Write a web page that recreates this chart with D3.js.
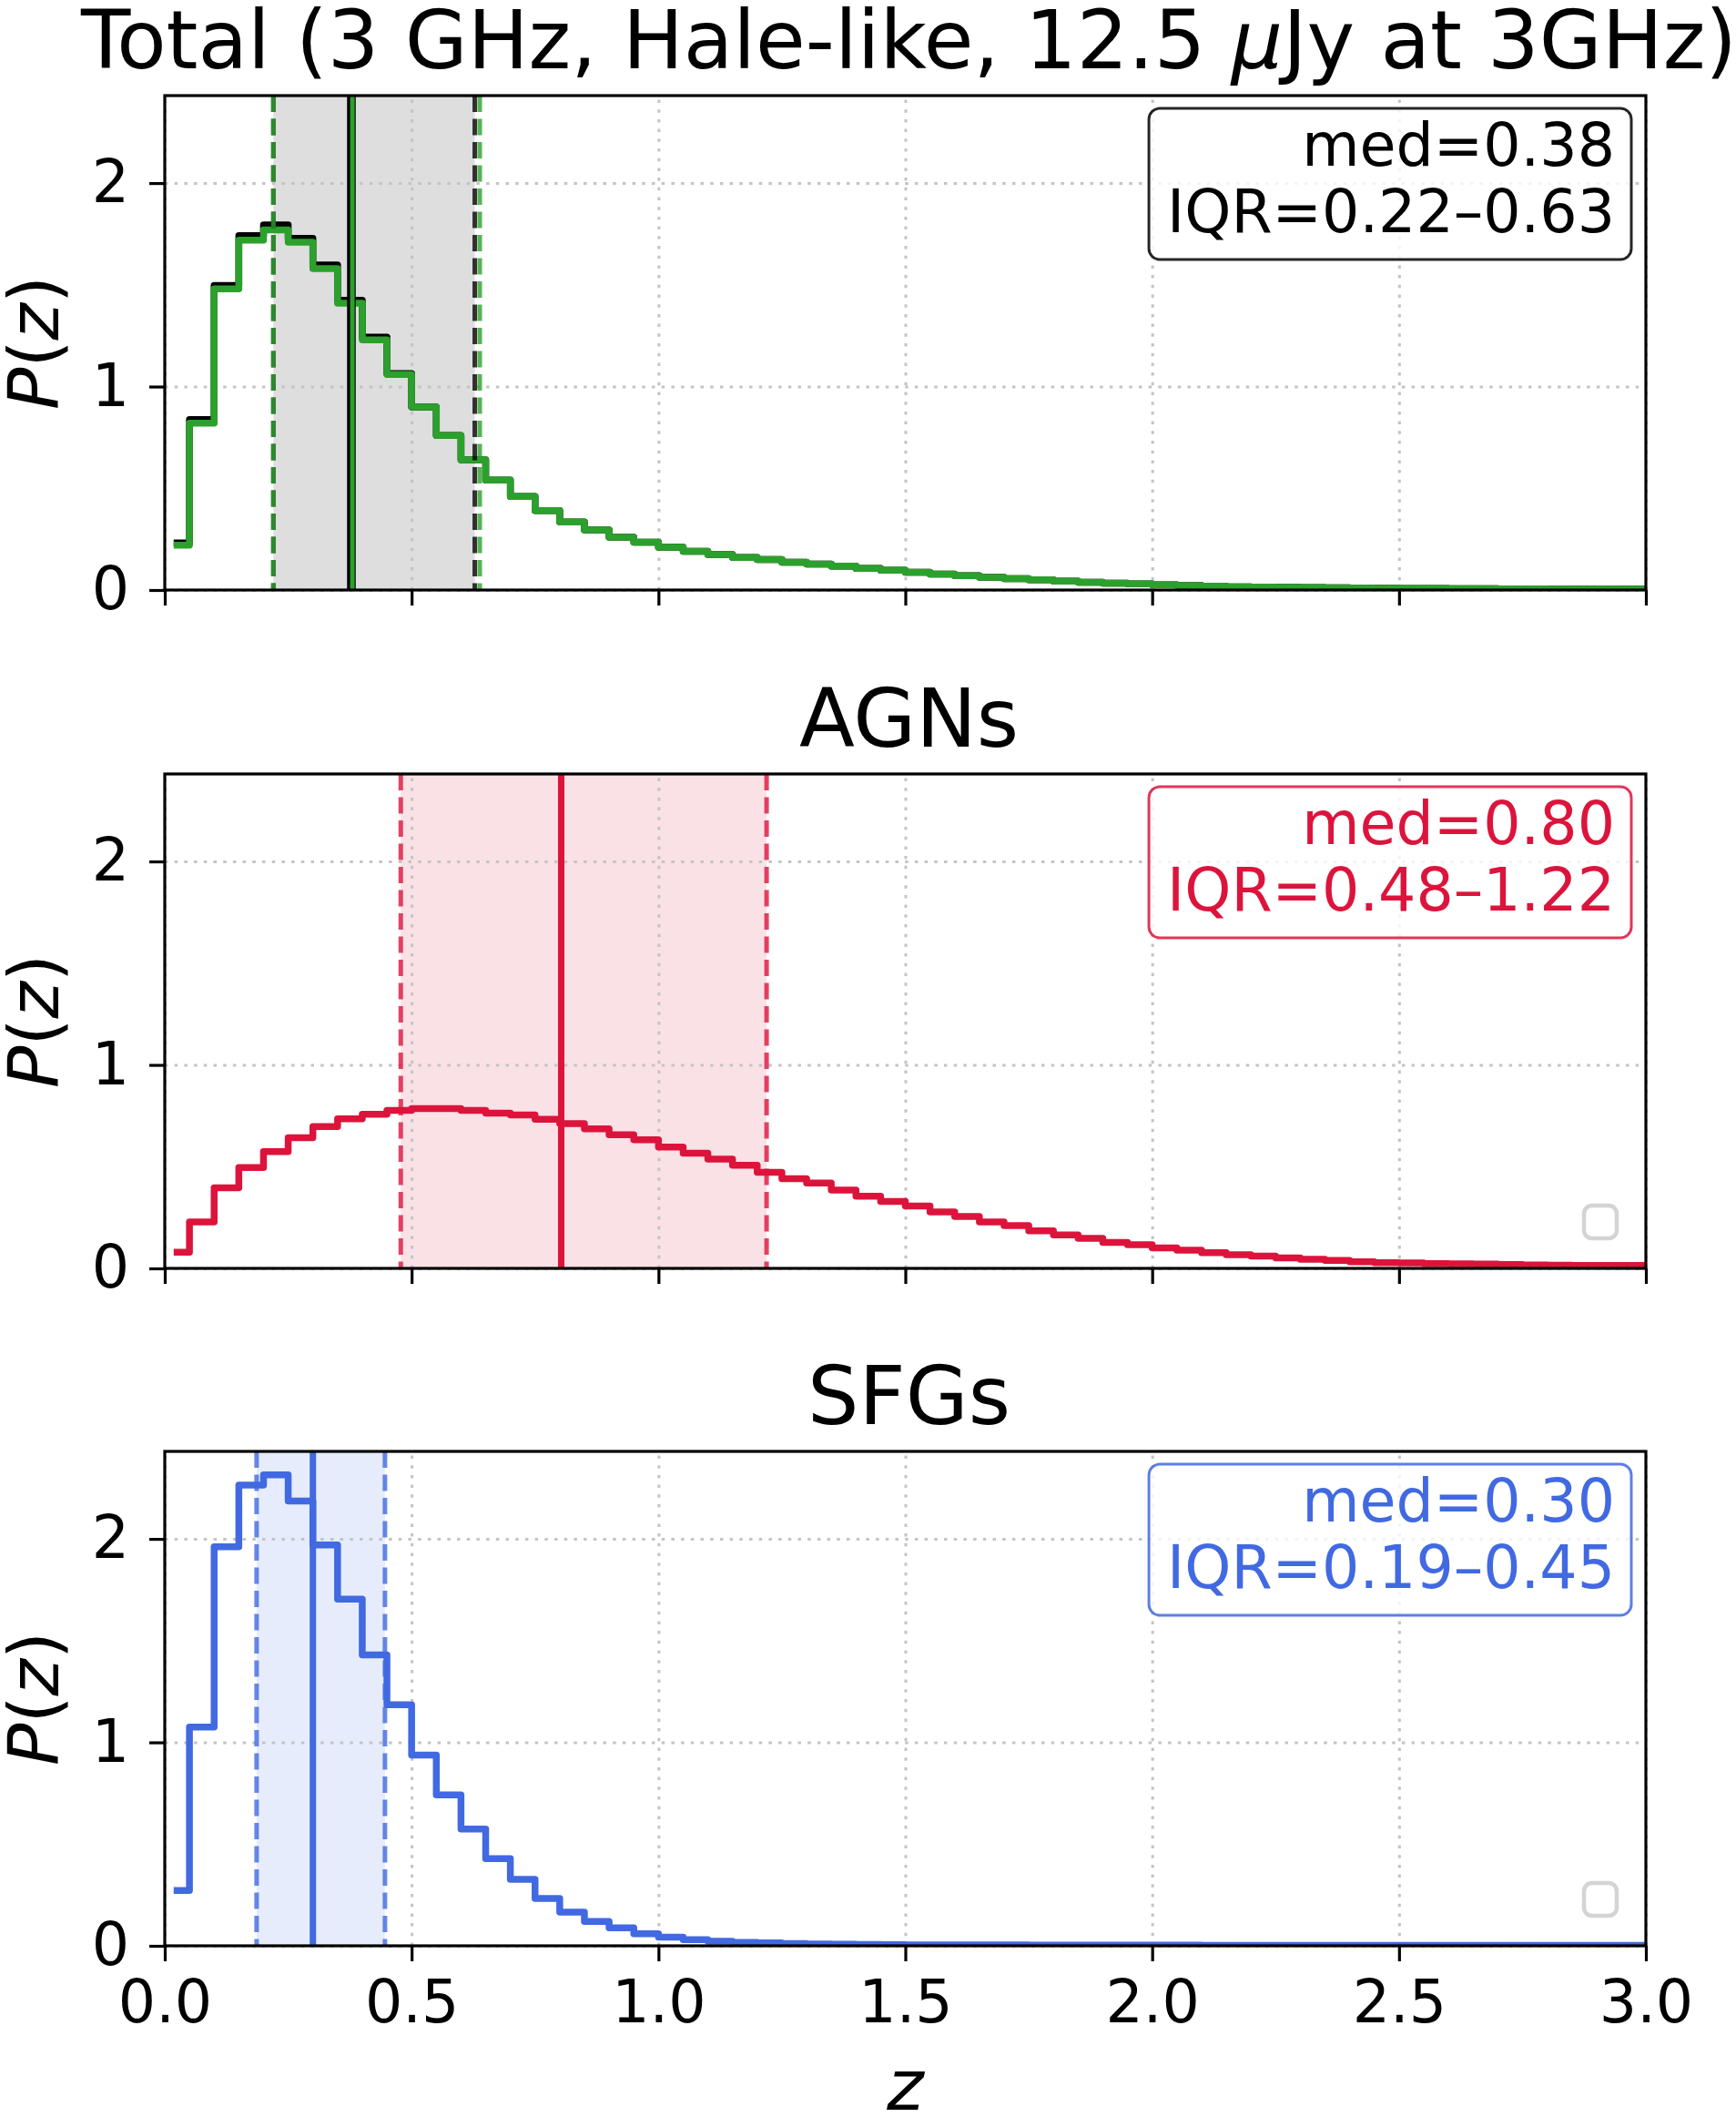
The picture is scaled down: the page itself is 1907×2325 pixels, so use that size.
<!DOCTYPE html>
<html>
<head>
<meta charset="utf-8">
<script src="https://cdn.jsdelivr.net/npm/d3@7"></script>
<style>
  html, body { margin: 0; padding: 0; background: #fff; }
  svg { display: block; font-family: "DejaVu Sans", sans-serif; }
</style>
</head>
<body>
<svg id="chart" width="1907" height="2325"></svg>
<script>
// P(z) per 0.05 bin in z (bin i covers [0.05*i, 0.05*(i+1)]); last bin lies past z=3
const binWidth = 0.05;

const totalGreen = [
  0.22, 0.82, 1.48, 1.72, 1.77, 1.71, 1.58, 1.41, 1.23, 1.06,
  0.90, 0.76, 0.64, 0.54, 0.46, 0.39, 0.335, 0.295, 0.26, 0.235,
  0.21, 0.19, 0.175, 0.16, 0.15, 0.137, 0.127, 0.117, 0.106, 0.097,
  0.087, 0.078, 0.070, 0.063, 0.056, 0.050, 0.044, 0.038, 0.034, 0.030,
  0.026, 0.022, 0.019, 0.016, 0.014, 0.013, 0.012, 0.011, 0.010, 0.009,
  0.008, 0.008, 0.007, 0.007, 0.006, 0.006, 0.005, 0.005, 0.005, 0.004,
  0.004
];
// black total sits a hair above the green one around the peak
const totalBlack = [
  0.232, 0.838, 1.497, 1.742, 1.795, 1.728, 1.598, 1.424, 1.243, 1.064,
  0.90, 0.76, 0.64, 0.54, 0.46, 0.39, 0.335, 0.295, 0.26, 0.235,
  0.21, 0.19, 0.175, 0.16, 0.15, 0.137, 0.127, 0.117, 0.106, 0.097,
  0.087, 0.078, 0.070, 0.063, 0.056, 0.050, 0.044, 0.038, 0.034, 0.030,
  0.026, 0.022, 0.019, 0.016, 0.014, 0.013, 0.012, 0.011, 0.010, 0.009,
  0.008, 0.008, 0.007, 0.007, 0.006, 0.006, 0.005, 0.005, 0.005, 0.004,
  0.004
];
const agnValues = [
  0.079, 0.228, 0.396, 0.496, 0.574, 0.642, 0.697, 0.735, 0.757, 0.776,
  0.785, 0.785, 0.776, 0.763, 0.754, 0.733, 0.711, 0.686, 0.657, 0.632,
  0.596, 0.566, 0.537, 0.507, 0.472, 0.441, 0.419, 0.385, 0.355, 0.329,
  0.306, 0.277, 0.255, 0.228, 0.210, 0.185, 0.165, 0.148, 0.127, 0.116,
  0.101, 0.089, 0.077, 0.067, 0.060, 0.051, 0.045, 0.039, 0.033, 0.028,
  0.027, 0.024, 0.022, 0.021, 0.019, 0.017, 0.016, 0.015, 0.015, 0.014,
  0.013
];
const sfgValues = [
  0.272, 1.075, 1.961, 2.264, 2.315, 2.186, 1.970, 1.704, 1.430, 1.185,
  0.937, 0.742, 0.574, 0.429, 0.327, 0.233, 0.166, 0.120, 0.088, 0.059,
  0.042, 0.030, 0.022, 0.017, 0.014, 0.011, 0.009, 0.008, 0.007, 0.006,
  0.005, 0.005, 0.004, 0.004, 0.004, 0.003, 0.003, 0.003, 0.003, 0.003,
  0.003, 0.003, 0.002, 0.002, 0.002, 0.002, 0.002, 0.002, 0.002, 0.002,
  0.002, 0.002, 0.002, 0.002, 0.002, 0.002, 0.002, 0.002, 0.002, 0.002,
  0.002
];

// [q25, median, q75]
const totalGreenStats = [0.22, 0.38, 0.638];
const totalBlackStats = [0.22, 0.378, 0.628];
const agnStats = [0.478, 0.803, 1.219];
const sfgStats = [0.186, 0.30, 0.446];

const xTicks = [0, 0.5, 1, 1.5, 2, 2.5, 3];
const yTicks = [0, 1, 2];
const xDomain = [0, 3];
const yDomain = [0, 2.43];

const legendTexts = [
  ['med=0.38', 'IQR=0.22–0.63'],
  ['med=0.80', 'IQR=0.48–1.22'],
  ['med=0.30', 'IQR=0.19–0.45']
];

const GREEN = '#2ca02c', CRIMSON = '#dc143c', ROYAL = '#4169e1';

const panels = [
  { top: 105, title: [['Total (3 GHz, Hale-like, 12.5 ', 'normal'], ['μ', 'italic'], ['Jy at 3GHz)', 'normal']],
    shade: '#000000', shadeStats: totalBlackStats, legendColor: '#000000', legend: legendTexts[0], emptyLegend: false,
    curves: [
      { values: totalBlack, color: '#000000', stats: totalBlackStats, medWidth: 9.5 },
      { values: totalGreen, color: GREEN, stats: totalGreenStats, medWidth: 5 }
    ] },
  { top: 850, title: [['AGNs', 'normal']],
    shade: CRIMSON, shadeStats: agnStats, legendColor: CRIMSON, legend: legendTexts[1], emptyLegend: true,
    curves: [ { values: agnValues, color: CRIMSON, stats: agnStats, medWidth: 7 } ] },
  { top: 1594, title: [['SFGs', 'normal']],
    shade: ROYAL, shadeStats: sfgStats, legendColor: ROYAL, legend: legendTexts[2], emptyLegend: true,
    curves: [ { values: sfgValues, color: ROYAL, stats: sfgStats, medWidth: 7 } ] }
];

const left = 181, plotW = 1627, plotH = 543;
const tickFont = 65, titleFont = 89, labelFont = 77;

const svg = d3.select('#chart');
const x = d3.scaleLinear().domain(xDomain).range([0, plotW]);
const y = d3.scaleLinear().domain(yDomain).range([plotH, 0]);

const stepLine = d3.line()
  .x((d, i) => x((i + 0.5) * binWidth))
  .y(d => y(d))
  .curve(d3.curveStep);

panels.forEach((p, idx) => {
  const isLast = idx === panels.length - 1;
  const g = svg.append('g').attr('transform', `translate(${left},${p.top})`);

  g.append('clipPath').attr('id', `clip${idx}`)
    .append('rect').attr('width', plotW).attr('height', plotH);

  // IQR shading
  g.append('rect')
    .attr('x', x(p.shadeStats[0]))
    .attr('width', x(p.shadeStats[2]) - x(p.shadeStats[0]))
    .attr('y', 0).attr('height', plotH)
    .attr('fill', p.shade).attr('fill-opacity', 0.13);

  // dotted grid
  const gx = g.append('g').attr('transform', `translate(0,${plotH})`)
    .call(d3.axisBottom(x).tickValues(xTicks).tickSize(-plotH).tickFormat(''));
  const gy = g.append('g')
    .call(d3.axisLeft(y).tickValues(yTicks).tickSize(-plotW).tickFormat(''));
  [gx, gy].forEach(a => {
    a.select('.domain').remove();
    a.selectAll('.tick line')
      .attr('stroke', '#c4c4c4').attr('stroke-width', 3).attr('stroke-dasharray', '3.5,7.2');
  });

  // step curves
  p.curves.forEach(c => {
    g.append('path')
      .datum(c.values)
      .attr('clip-path', `url(#clip${idx})`)
      .attr('fill', 'none')
      .attr('stroke', c.color)
      .attr('stroke-width', 7.5)
      .attr('stroke-linejoin', 'round')
      .attr('stroke-linecap', 'square')
      .attr('d', stepLine);
  });

  // quartile (dashed) and median (solid) lines
  p.curves.forEach(c => {
    [c.stats[0], c.stats[2]].forEach(q => {
      g.append('line')
        .attr('x1', x(q)).attr('x2', x(q))
        .attr('y1', 0).attr('y2', plotH)
        .attr('stroke', c.color).attr('stroke-opacity', 0.8)
        .attr('stroke-width', 5)
        .attr('stroke-dasharray', '18,7.5');
    });
    g.append('line')
      .attr('x1', x(c.stats[1])).attr('x2', x(c.stats[1]))
      .attr('y1', 0).attr('y2', plotH)
      .attr('stroke', c.color)
      .attr('stroke-width', c.medWidth);
  });

  // axes: ticks and spines
  const xAxis = d3.axisBottom(x).tickValues(xTicks).tickSize(17).tickPadding(21)
    .tickFormat(isLast ? d3.format('.1f') : '');
  const ax = g.append('g').attr('transform', `translate(0,${plotH})`).call(xAxis);
  const ay = g.append('g')
    .call(d3.axisLeft(y).tickValues(yTicks).tickSize(17).tickPadding(22).tickFormat(d3.format('d')));
  [ax, ay].forEach(a => {
    a.select('.domain').remove();
    a.selectAll('.tick line').attr('stroke', '#000').attr('stroke-width', 3.2);
    a.selectAll('.tick text')
      .attr('fill', '#000')
      .style('font-family', '"DejaVu Sans", sans-serif')
      .style('font-size', `${tickFont}px`);
  });

  g.append('rect')
    .attr('width', plotW).attr('height', plotH)
    .attr('fill', 'none').attr('stroke', '#000').attr('stroke-width', 3.2);

  // title
  const t = g.append('text')
    .attr('x', plotW / 2 + 4).attr('y', -30)
    .attr('text-anchor', 'middle')
    .style('font-size', `${titleFont}px`);
  p.title.forEach(([s, st]) => t.append('tspan').attr('font-style', st).text(s));

  // y label P(z)
  const yl = g.append('text')
    .attr('transform', `translate(${37 - left},${plotH / 2}) rotate(-90)`)
    .attr('text-anchor', 'middle')
    .attr('dy', '0.35em')
    .style('font-size', `${labelFont}px`);
  yl.append('tspan').attr('font-style', 'italic').text('P');
  yl.append('tspan').text('(');
  yl.append('tspan').attr('font-style', 'italic').text('z');
  yl.append('tspan').text(')');

  // stats legend box
  const lg = g.append('g');
  const boxRight = plotW - 16, textRight = plotW - 34;
  const box = lg.append('rect');
  const lt = lg.append('text')
    .attr('text-anchor', 'end')
    .attr('fill', p.legendColor)
    .style('font-size', '65px');
  p.legend.forEach((s, i) => {
    lt.append('tspan').attr('x', textRight).attr('y', 77 + i * 73).text(s);
  });
  const bb = lt.node().getBBox();
  box.attr('x', bb.x - 20).attr('y', 14)
    .attr('width', boxRight - (bb.x - 20)).attr('height', 166)
    .attr('rx', 12)
    .attr('fill', '#fff').attr('fill-opacity', 0.8)
    .attr('stroke', p.legendColor).attr('stroke-opacity', 0.85).attr('stroke-width', 3);

  // empty legend frame in the lower right corner
  if (p.emptyLegend) {
    g.append('rect')
      .attr('x', plotW - 68).attr('y', plotH - 69)
      .attr('width', 36).attr('height', 36).attr('rx', 9)
      .attr('fill', '#fff').attr('stroke', '#d4d4d4').attr('stroke-width', 4.5);
  }

  if (isLast) {
    g.append('text')
      .attr('x', plotW / 2).attr('y', plotH + 180)
      .attr('text-anchor', 'middle')
      .attr('font-style', 'italic')
      .style('font-size', `${labelFont}px`)
      .text('z');
  }
});
</script>
</body>
</html>
